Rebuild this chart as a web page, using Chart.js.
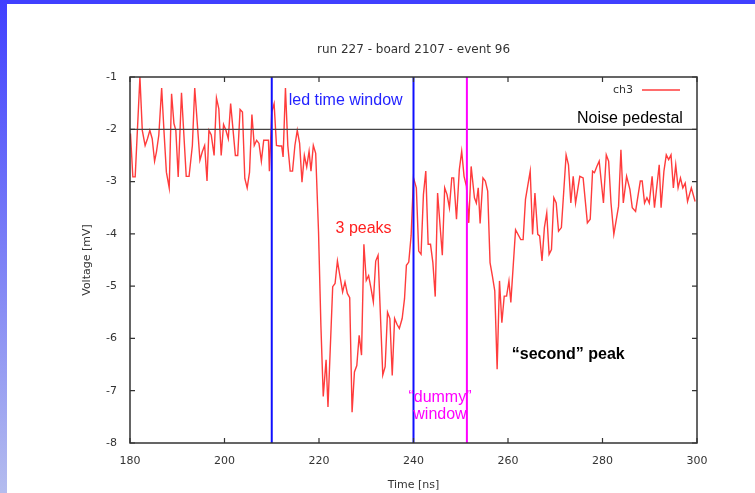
<!DOCTYPE html>
<html>
<head>
<meta charset="utf-8">
<script src="https://cdn.jsdelivr.net/npm/chart.js@4/dist/chart.umd.min.js"></script>
<style>
  html, body { margin: 0; padding: 0; background: #fff; overflow: hidden; }
  #wrap { position: relative; width: 755px; height: 493px; }
  #topbar { position: absolute; left: 0; top: 0; width: 755px; height: 4px; background: #4040ff; }
  #leftbar { position: absolute; left: 0; top: 0; width: 7px; height: 493px;
             background: linear-gradient(to bottom, #4040ff, #b4bcee); }
  canvas { position: absolute; left: 0; top: 0; }
</style>
</head>
<body>
<div id="wrap">
  <canvas id="waveChart" width="755" height="493"></canvas>
  <div id="topbar"></div>
  <div id="leftbar"></div>
</div>
<script>
// waveform ch3 (time in ns, voltage in mV)
const timeNs = [
  180.1, 180.6, 181.1, 182.1, 182.6, 183.2, 183.7, 184.2, 184.7, 185.2,
  185.6, 186.1, 186.7, 187.2, 187.7, 188.3, 188.8, 189.3, 189.7, 190.2,
  190.9, 191.9, 192.5, 193.2, 193.7, 194.8, 195.3, 195.8, 196.3, 196.7,
  197.2, 197.8, 198.3, 198.8, 199.3, 199.8, 200.3, 200.8, 201.3, 202.3,
  202.8, 203.3, 203.8, 204.3, 204.8, 205.3, 205.8, 206.3, 206.8, 207.3,
  207.8, 208.3, 208.8, 209.3, 209.5, 210.0, 210.5, 211.0, 211.6, 212.1,
  212.4, 212.9, 213.4, 213.9, 214.4, 214.9, 215.4, 215.9, 216.4, 216.9,
  217.4, 217.9, 218.3, 218.8, 219.3, 219.9, 220.4, 220.9, 221.5, 221.9,
  222.9, 223.4, 223.9, 224.4, 225.0, 225.5, 226.0, 226.5, 227.0, 227.5,
  228.0, 228.5, 229.0, 229.5, 230.0, 230.5, 231.0, 231.5, 232.0, 232.5,
  233.5, 234.0, 234.5, 235.0, 235.5, 236.0, 236.5, 237.0, 237.6, 238.1,
  238.5, 239.0, 239.5, 240.0, 240.6, 241.1, 241.6, 242.1, 242.6, 243.1,
  243.6, 244.1, 244.6, 245.1, 246.1, 246.6, 247.1, 247.6, 248.1, 248.5,
  249.1, 249.7, 250.2, 250.7, 251.2, 251.7, 252.2, 252.9, 253.3, 253.7,
  254.1, 254.7, 255.2, 255.7, 256.2, 256.7, 257.2, 257.7, 258.2, 258.7,
  259.2, 259.7, 260.2, 260.6, 261.6, 262.7, 263.2, 263.7, 264.7, 265.2,
  265.7, 266.3, 266.7, 267.2, 267.7, 268.2, 268.7, 269.2, 269.7, 270.2,
  270.7, 271.3, 272.3, 272.8, 273.3, 273.8, 274.3, 275.2, 275.9, 276.8,
  277.4, 277.9, 278.3, 278.8, 279.3, 280.2, 280.8, 281.3, 281.8, 282.4,
  283.4, 283.9, 284.4, 285.1, 285.8, 286.3, 287.0, 288.0, 288.4, 288.9,
  289.4, 289.9, 290.5, 291.0, 292.0, 292.4, 293.0, 293.5, 294.0, 294.5,
  295.0, 295.5, 296.0, 296.5, 297.0, 297.5, 298.0, 298.8, 299.6
];
const voltageMv = [
  -2.08, -2.91, -2.91, -1.00, -2.02, -2.31, -2.18, -2.02, -2.18, -2.61,
  -2.43, -2.11, -1.21, -2.05, -2.82, -3.12, -1.32, -1.89, -2.02, -2.91,
  -1.30, -2.90, -2.90, -2.31, -1.21, -2.59, -2.43, -2.31, -2.99, -2.02,
  -2.11, -2.50, -1.40, -1.61, -2.50, -1.91, -2.02, -2.18, -1.51, -2.50,
  -2.50, -1.62, -1.67, -2.94, -3.12, -2.82, -1.72, -2.31, -2.21, -2.27,
  -2.61, -2.21, -2.21, -2.21, -2.80, -1.67, -1.51, -2.31, -2.32, -2.32,
  -2.53, -1.21, -2.31, -2.80, -2.80, -2.31, -2.02, -2.27, -3.01, -2.50,
  -2.72, -2.42, -2.80, -2.31, -2.46, -3.96, -5.75, -7.11, -6.41, -7.31,
  -5.01, -4.95, -4.52, -4.79, -5.11, -4.92, -5.14, -5.22, -7.41, -6.64,
  -6.52, -5.94, -6.32, -4.20, -4.89, -4.80, -5.04, -5.30, -4.52, -4.41,
  -6.70, -6.54, -5.50, -5.62, -6.71, -5.62, -5.73, -5.81, -5.62, -5.24,
  -4.60, -4.54, -4.03, -2.93, -3.12, -4.33, -4.39, -3.25, -2.80, -4.20,
  -4.20, -4.55, -5.20, -3.22, -4.41, -3.12, -3.25, -3.50, -2.93, -2.93,
  -3.72, -2.77, -2.42, -2.90, -3.09, -3.79, -2.71, -3.31, -3.41, -3.12,
  -3.80, -2.93, -2.99, -3.18, -4.55, -4.81, -5.09, -6.59, -4.90, -5.70,
  -5.19, -5.19, -4.90, -5.31, -3.92, -4.11, -4.11, -3.34, -2.80, -4.01,
  -3.22, -4.01, -4.04, -4.52, -3.88, -3.60, -4.39, -4.30, -3.31, -3.41,
  -3.95, -3.88, -2.49, -2.68, -3.41, -2.90, -3.41, -2.90, -2.93, -3.79,
  -3.72, -2.80, -2.83, -2.71, -2.61, -3.41, -2.49, -2.61, -3.41, -4.01,
  -3.47, -2.39, -3.41, -2.90, -3.15, -3.50, -3.57, -2.99, -2.99, -3.41,
  -3.31, -3.41, -2.90, -3.50, -2.68, -3.50, -2.80, -2.49, -2.58, -2.49,
  -3.12, -2.68, -3.12, -2.93, -3.12, -3.03, -3.38, -3.12, -3.38
];

const xRange = [180, 300];
const yRange = [-8, -1];
const pedestalMv = -2;
const ledWindowNs = [210, 240];
const dummyWindowNs = 251.3;

// annotations: [text, x (ns), y (mV), colour, bold, align]
const notes = [
  ["led time window", 213.6, -1.46, "#2323ff", false, "left"],
  ["Noise pedestal", 274.6, -1.80, "#000000", false, "left"],
  ["3 peaks", 223.5, -3.89, "#ff1f1f", false, "left"],
  ["\u201csecond\u201d peak", 260.8, -6.31, "#000000", true, "left"],
  ["\u201cdummy\u201d", 245.6, -7.14, "#ff00ff", false, "center"],
  ["window", 245.6, -7.46, "#ff00ff", false, "center"]
];

const traceColor = "rgba(255, 60, 60, 1)";

const decorPlugin = {
  id: "decor",
  afterDatasetsDraw(chart) {
    const ctx = chart.ctx;
    const a = chart.chartArea;
    const xs = chart.scales.x, ys = chart.scales.y;
    ctx.save();

    // noise pedestal line
    ctx.strokeStyle = "#444";
    ctx.lineWidth = 1.2;
    const py = ys.getPixelForValue(pedestalMv);
    ctx.beginPath(); ctx.moveTo(a.left, py); ctx.lineTo(a.right, py); ctx.stroke();

    // window markers
    ctx.lineWidth = 2;
    ctx.strokeStyle = "#1010ff";
    ledWindowNs.forEach(function (t) {
      const px = xs.getPixelForValue(t);
      ctx.beginPath(); ctx.moveTo(px, a.top); ctx.lineTo(px, a.bottom); ctx.stroke();
    });
    ctx.strokeStyle = "#ff00ff";
    const mx = xs.getPixelForValue(dummyWindowNs);
    ctx.beginPath(); ctx.moveTo(mx, a.top); ctx.lineTo(mx, a.bottom); ctx.stroke();

    // frame + inward ticks on all sides
    ctx.strokeStyle = "#333";
    ctx.lineWidth = 1.5;
    ctx.strokeRect(a.left, a.top, a.right - a.left, a.bottom - a.top);
    ctx.lineWidth = 1.2;
    xs.ticks.forEach(function (tk) {
      const px = xs.getPixelForValue(tk.value);
      ctx.beginPath();
      ctx.moveTo(px, a.bottom); ctx.lineTo(px, a.bottom - 5);
      ctx.moveTo(px, a.top); ctx.lineTo(px, a.top + 5);
      ctx.stroke();
    });
    ys.ticks.forEach(function (tk) {
      const p = ys.getPixelForValue(tk.value);
      ctx.beginPath();
      ctx.moveTo(a.left, p); ctx.lineTo(a.left + 5, p);
      ctx.moveTo(a.right, p); ctx.lineTo(a.right - 5, p);
      ctx.stroke();
    });

    // title
    ctx.fillStyle = "#333";
    ctx.font = "12px 'DejaVu Sans'";
    ctx.textAlign = "center";
    ctx.textBaseline = "middle";
    ctx.fillText("run 227 - board 2107 - event 96", (a.left + a.right) / 2, 50);

    // legend
    ctx.font = "11px 'DejaVu Sans'";
    ctx.textAlign = "right";
    ctx.fillText("ch3", a.right - 64, a.top + 13);
    ctx.strokeStyle = traceColor;
    ctx.lineWidth = 1.4;
    ctx.beginPath(); ctx.moveTo(a.right - 55, a.top + 13); ctx.lineTo(a.right - 17, a.top + 13); ctx.stroke();

    // annotations
    notes.forEach(function (n) {
      ctx.font = (n[4] ? "bold " : "") + "16px 'Liberation Sans', Arial, sans-serif";
      ctx.fillStyle = n[3];
      ctx.textAlign = n[5];
      ctx.textBaseline = "middle";
      ctx.fillText(n[0], xs.getPixelForValue(n[1]), ys.getPixelForValue(n[2]));
    });
    ctx.restore();
  }
};

const ctx = document.getElementById("waveChart").getContext("2d");

const waveChart = new Chart(ctx, {
  type: "line",
  data: {
    datasets: [
      {
        label: "ch3",
        data: timeNs.map(function (t, i) { return { x: t, y: voltageMv[i] }; }),
        borderColor: traceColor,
        borderWidth: 1.4,
        pointRadius: 0,
        tension: 0,
        fill: false
      }
    ]
  },
  options: {
    responsive: false,
    animation: false,
    devicePixelRatio: 1,
    layout: { padding: { top: 77, right: 58, left: 0, bottom: 0 } },
    plugins: { legend: { display: false }, tooltip: { enabled: false }, title: { display: false } },
    scales: {
      x: {
        type: "linear",
        min: xRange[0], max: xRange[1],
        grid: { display: false, drawTicks: false },
        border: { display: false },
        ticks: { stepSize: 20, padding: 12, color: "#333", font: { family: "DejaVu Sans", size: 11 } },
        title: { display: true, text: "Time [ns]", color: "#333",
                 font: { family: "DejaVu Sans", size: 11 }, padding: { top: 4, bottom: 1 } },
        afterFit: function (s) { s.height = 50; }
      },
      y: {
        min: yRange[0], max: yRange[1],
        grid: { display: false, drawTicks: false },
        border: { display: false },
        ticks: { stepSize: 1, padding: 13, color: "#333", font: { family: "DejaVu Sans", size: 11 } },
        title: { display: true, text: "Voltage [mV]", color: "#333",
                 font: { family: "DejaVu Sans", size: 11 }, padding: { top: 81, bottom: 0 } },
        afterFit: function (s) { s.width = 130; }
      }
    }
  },
  plugins: [decorPlugin]
});
</script>
</body>
</html>
